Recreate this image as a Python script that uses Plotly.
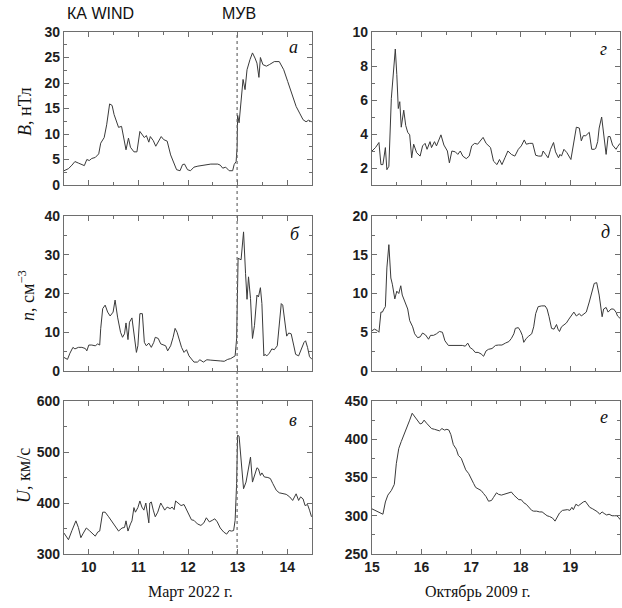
import plotly.graph_objects as go

# ---------------- data ----------------
# Left column: March 2022 (day of month)
t_mar_B = [9.50, 9.59, 9.66, 9.72, 9.79, 9.86, 9.91, 9.96, 10.01, 10.06, 10.13, 10.20, 10.24, 10.31, 10.36,
           10.42, 10.47, 10.51, 10.57, 10.60, 10.66, 10.70, 10.75, 10.80, 10.84, 10.91, 10.97, 11.03, 11.07,
           11.12, 11.16, 11.21, 11.24, 11.30, 11.35, 11.41, 11.46, 11.51, 11.58, 11.65, 11.72, 11.77, 11.84,
           11.89, 11.93, 11.99, 12.05, 12.12, 12.20, 12.32, 12.46, 12.60, 12.65, 12.70, 12.76, 12.83, 12.90,
           12.93, 12.97, 12.99, 13.00, 13.03, 13.07, 13.11, 13.15, 13.19, 13.25, 13.30, 13.35, 13.39, 13.43,
           13.46, 13.51, 13.58, 13.64, 13.74, 13.84, 13.93, 14.01, 14.09, 14.18, 14.25, 14.32, 14.38, 14.43, 14.49]
B_mar = [2.8, 3.2, 3.9, 4.6, 4.3, 4.0, 3.8, 5.0, 4.8, 5.2, 5.4, 6.1, 8.2, 9.3, 11.8,
         15.9, 15.6, 13.8, 12.2, 11.3, 11.5, 9.5, 6.9, 9.2, 7.4, 6.5, 6.5, 10.5, 10.0,
         9.3, 9.7, 8.4, 9.5, 8.7, 7.6, 8.6, 9.5, 8.9, 8.6, 5.9, 4.0, 3.0, 2.8,
         4.0, 4.1, 3.0, 2.8, 3.5, 3.7, 3.9, 4.1, 4.1, 3.9, 3.3, 3.5, 2.8, 2.8,
         4.0, 4.6, 7.3, 13.7, 12.2, 16.7, 20.7, 18.7, 22.6, 24.6, 25.9, 24.9, 23.9, 21.1,
         25.0, 23.6, 23.3, 23.6, 24.2, 24.2, 22.6, 20.3, 18.0, 15.4, 14.1, 12.8, 12.4, 12.7, 12.4]

t_mar_n = [9.50, 9.57, 9.62, 9.68, 9.72, 9.79, 9.86, 9.93, 9.96, 10.00, 10.06, 10.13, 10.18, 10.22, 10.24,
           10.28, 10.33, 10.38, 10.43, 10.49, 10.53, 10.58, 10.64, 10.68, 10.72, 10.75, 10.79, 10.82, 10.87,
           10.92, 10.96, 10.99, 11.03, 11.08, 11.12, 11.16, 11.21, 11.26, 11.31, 11.34, 11.40, 11.45, 11.50,
           11.55, 11.59, 11.65, 11.70, 11.74, 11.78, 11.83, 11.87, 11.92, 11.97, 12.02, 12.07, 12.12, 12.19,
           12.24, 12.31, 12.38, 12.46, 12.56, 12.65, 12.73, 12.80, 12.86, 12.92, 12.95, 12.98, 13.01, 13.07,
           13.10, 13.12, 13.16, 13.19, 13.22, 13.26, 13.30, 13.34, 13.39, 13.42, 13.46, 13.49, 13.53, 13.55,
           13.59, 13.64, 13.69, 13.74, 13.80, 13.84, 13.88, 13.91, 13.95, 13.99, 14.03, 14.08, 14.13, 14.17,
           14.23, 14.28, 14.34, 14.37, 14.41, 14.45, 14.50]
n_mar = [3.5, 3.0, 4.6, 6.1, 5.7, 6.1, 6.1, 5.8, 5.2, 6.7, 6.7, 6.5, 7.0, 6.7, 10.9,
         16.1, 17.0, 15.2, 14.2, 15.2, 18.3, 13.9, 10.0, 8.7, 9.6, 12.4, 8.1, 12.6, 13.7,
         8.3, 4.8, 6.5, 14.8, 14.8, 7.4, 6.5, 7.2, 6.1, 7.4, 8.7, 8.4, 7.0, 6.7,
         6.5, 5.2, 6.5, 8.7, 11.0, 10.0, 7.4, 6.1, 4.8, 5.5, 3.9, 3.0, 2.3, 2.3,
         2.9, 2.3, 2.9, 2.8, 2.6, 2.6, 2.5, 3.0, 3.2, 3.7, 3.9, 8.3, 29.1, 28.7,
         32.6, 35.9, 25.2, 18.5, 24.3, 18.7, 8.4, 11.7, 19.6, 19.1, 21.5, 17.4, 3.9, 4.3,
         3.9, 4.6, 5.7, 5.5, 6.5, 12.6, 17.4, 17.0, 12.6, 9.0, 9.8, 9.6, 6.7, 4.3,
         3.9, 5.7, 7.4, 7.8, 6.1, 3.7, 3.0]

t_mar_U = [9.50, 9.59, 9.66, 9.74, 9.79, 9.84, 9.89, 9.95, 10.01, 10.08, 10.13, 10.18, 10.22, 10.28, 10.33,
           10.40, 10.47, 10.53, 10.60, 10.67, 10.72, 10.75, 10.79, 10.84, 10.87, 10.91, 10.94, 10.99, 11.03,
           11.07, 11.11, 11.15, 11.19, 11.21, 11.23, 11.26, 11.30, 11.34, 11.39, 11.45, 11.48, 11.53, 11.58,
           11.64, 11.68, 11.72, 11.75, 11.82, 11.86, 11.92, 11.97, 12.02, 12.07, 12.12, 12.19, 12.26, 12.32,
           12.37, 12.43, 12.49, 12.54, 12.59, 12.65, 12.72, 12.78, 12.83, 12.88, 12.92, 12.95, 12.98, 13.00,
           13.03, 13.07, 13.12, 13.17, 13.22, 13.26, 13.30, 13.34, 13.39, 13.42, 13.46, 13.49, 13.54, 13.61,
           13.66, 13.71, 13.78, 13.84, 13.91, 13.98, 14.05, 14.11, 14.18, 14.23, 14.27, 14.32, 14.36, 14.41,
           14.45, 14.49]
U_mar = [341, 328, 346, 365, 352, 332, 341, 351, 346, 340, 335, 343, 345, 382, 382,
         373, 363, 356, 345, 351, 352, 365, 345, 359, 365, 391, 382, 391, 404,
         392, 386, 400, 376, 361, 400, 402, 386, 373, 382, 400, 395, 386, 392,
         389, 392, 387, 404, 397, 395, 397, 386, 378, 367, 366, 359, 356, 361,
         371, 363, 366, 369, 363, 351, 343, 339, 346, 345, 346, 366, 438, 533,
         531, 490, 428, 441, 467, 490, 441, 454, 469, 467, 454, 459, 451, 450,
         448, 438, 425, 420, 418, 417, 412, 405, 418, 405, 412, 408, 395, 397,
         386, 373]

# Right column: October 2009 (day of month)
t_oct_B = [15.00, 15.07, 15.14, 15.18, 15.22, 15.27, 15.30, 15.34, 15.39, 15.43, 15.47, 15.50, 15.53, 15.56,
           15.59, 15.64, 15.68, 15.72, 15.76, 15.80, 15.84, 15.90, 15.97, 16.02, 16.07, 16.11, 16.17, 16.20,
           16.26, 16.30, 16.35, 16.39, 16.45, 16.52, 16.56, 16.61, 16.68, 16.73, 16.78, 16.83, 16.90, 16.96,
           17.01, 17.07, 17.13, 17.18, 17.24, 17.30, 17.39, 17.45, 17.52, 17.57, 17.62, 17.68, 17.74, 17.81,
           17.88, 17.95, 18.01, 18.07, 18.11, 18.18, 18.24, 18.30, 18.36, 18.42, 18.45, 18.50, 18.55, 18.60,
           18.66, 18.70, 18.76, 18.79, 18.82, 18.87, 18.93, 19.01, 19.07, 19.12, 19.18, 19.22, 19.26, 19.31,
           19.38, 19.43, 19.48, 19.51, 19.55, 19.58, 19.63, 19.67, 19.72, 19.76, 19.80, 19.85, 19.92, 19.95, 20.00]
B_oct = [3.0, 3.2, 3.5, 2.2, 2.2, 3.2, 1.9, 2.1, 6.1, 7.7, 9.0, 7.5, 5.5, 5.9,
         4.4, 5.4, 4.5, 4.1, 3.95, 2.6, 3.4, 2.9, 2.7, 3.3, 3.45, 3.1, 3.55, 3.2,
         3.55, 3.3, 3.65, 3.95, 3.35, 3.0, 2.3, 3.0, 2.95, 2.8, 3.0, 2.7, 2.55, 2.7,
         3.3, 3.45, 3.4, 3.6, 3.8, 3.45, 3.2, 2.4, 2.2, 2.5, 2.2, 2.6, 3.0, 2.8,
         2.7, 3.1, 3.3, 3.65, 3.4, 3.45, 3.45, 2.75, 2.7, 2.7, 3.0, 2.8, 2.6, 3.1,
         3.5, 2.95, 2.6, 2.8, 2.7, 3.1, 2.9, 2.5, 3.45, 4.4, 4.35, 3.6, 3.9, 3.9,
         4.1, 3.1, 3.1, 3.15, 3.55, 4.35, 5.0, 4.15, 2.8, 3.85, 3.85, 3.35, 3.1, 3.25, 3.45]

t_oct_n = [15.00, 15.05, 15.11, 15.14, 15.18, 15.21, 15.24, 15.27, 15.30, 15.34, 15.38, 15.41, 15.46, 15.50,
           15.54, 15.58, 15.61, 15.66, 15.72, 15.76, 15.82, 15.86, 15.92, 15.97, 16.02, 16.08, 16.14, 16.18,
           16.24, 16.30, 16.36, 16.42, 16.47, 16.54, 16.61, 16.66, 16.71, 16.78, 16.82, 16.88, 16.93, 16.98,
           17.03, 17.08, 17.14, 17.20, 17.25, 17.30, 17.35, 17.42, 17.49, 17.55, 17.62, 17.69, 17.76, 17.81,
           17.86, 17.89, 17.95, 17.99, 18.03, 18.06, 18.11, 18.16, 18.22, 18.26, 18.30, 18.35, 18.42, 18.49,
           18.53, 18.57, 18.62, 18.67, 18.72, 18.75, 18.78, 18.82, 18.87, 18.92, 18.97, 19.03, 19.07, 19.12,
           19.18, 19.22, 19.26, 19.32, 19.38, 19.43, 19.48, 19.53, 19.58, 19.64, 19.67, 19.72, 19.76, 19.82,
           19.87, 19.92, 19.95, 20.00]
n_oct = [5.2, 5.4, 5.2, 5.0, 7.6, 7.6, 8.0, 8.3, 13.3, 16.3, 12.0, 11.2, 9.3, 10.3,
         10.0, 11.0, 9.8, 8.9, 8.0, 6.5, 5.7, 4.8, 4.3, 4.4, 4.9, 4.65, 4.1, 4.6,
         4.6, 4.8, 5.1, 5.0, 3.9, 3.3, 3.3, 3.3, 3.3, 3.35, 3.3, 3.2, 3.6, 3.0,
         2.8, 2.4, 2.4, 2.2, 1.9, 2.6, 2.8, 2.9, 3.3, 3.35, 3.35, 3.6, 3.8, 4.2,
         4.8, 5.5, 5.6, 5.2, 4.6, 3.7, 4.2, 4.5, 4.8, 5.7, 7.4, 8.3, 8.4, 8.4,
         8.0, 7.0, 5.5, 5.4, 6.0, 5.4, 5.1, 5.7, 5.9, 6.2, 6.7, 7.2, 7.6, 7.1,
         7.4, 7.1, 7.3, 7.6, 8.9, 10.2, 11.3, 11.4, 9.8, 7.0, 8.0, 8.2, 7.6, 8.0,
         8.0, 7.6, 7.1, 6.8]

t_oct_U = [15.00, 15.09, 15.16, 15.22, 15.27, 15.32, 15.39, 15.45, 15.49, 15.54, 15.59, 15.66, 15.72, 15.76,
           15.81, 15.86, 15.92, 15.97, 16.01, 16.05, 16.10, 16.16, 16.20, 16.26, 16.30, 16.36, 16.41, 16.46,
           16.51, 16.55, 16.59, 16.64, 16.70, 16.74, 16.80, 16.84, 16.89, 16.95, 16.99, 17.05, 17.09, 17.15,
           17.20, 17.25, 17.30, 17.35, 17.41, 17.45, 17.51, 17.55, 17.61, 17.66, 17.71, 17.76, 17.81, 17.86,
           17.91, 17.96, 18.01, 18.06, 18.11, 18.16, 18.22, 18.26, 18.32, 18.38, 18.43, 18.49, 18.53, 18.58,
           18.64, 18.69, 18.74, 18.78, 18.84, 18.89, 18.94, 18.99, 19.03, 19.06, 19.11, 19.16, 19.21, 19.26,
           19.30, 19.34, 19.39, 19.45, 19.50, 19.55, 19.59, 19.64, 19.68, 19.73, 19.78, 19.84, 19.89, 19.93,
           19.97, 20.00]
U_oct = [309, 306, 303.5, 302, 318, 327, 333, 341, 368, 388, 397, 408, 417, 425,
         434, 430, 425, 420, 421, 425, 421, 417, 414, 413, 412, 411, 414, 412,
         413, 412, 406, 393, 387, 379, 375, 368, 360, 355, 349, 342, 337, 335,
         333, 329, 325, 319, 320, 324, 330, 328, 327, 328, 329, 331, 331, 327,
         324, 321, 321, 317, 315, 311, 307, 306, 306, 305, 305, 302, 300, 299,
         297, 293, 298, 303.5, 307, 308, 308, 307, 311, 308, 315, 313, 316, 318,
         319, 315, 311, 309, 307, 305, 302, 305, 303, 301, 302, 300, 300, 300,
         298, 295]

shock_time = 12.99
left_ticks = [10, 11, 12, 13, 14]
right_ticks = [15, 16, 17, 18, 19]
panel_letters = ["а", "г", "б", "д", "в", "е"]
left_xlabel = "Март 2022 г."
right_xlabel = "Октябрь 2009 г."

# ---------------- figure ----------------
W, H = 622, 608
LINE = "#3a3a3a"
FRAME = "#6e6e6e"

def px_x(a, b):
    return [a / W, b / W]

def px_y(top, bot):
    return [1 - bot / H, 1 - top / H]

xdom_L = px_x(64, 312)
xdom_R = px_x(372, 620)
ydoms = [px_y(32, 185), px_y(216, 371), px_y(401, 554)]

series = [
    (t_mar_B, B_mar), (t_oct_B, B_oct),
    (t_mar_n, n_mar), (t_oct_n, n_oct),
    (t_mar_U, U_mar), (t_oct_U, U_oct),
]

fig = go.Figure()
for i, (xs, ys) in enumerate(series):
    k = i + 1
    fig.add_trace(go.Scatter(x=xs, y=ys, mode="lines",
                             line=dict(color=LINE, width=1),
                             xaxis="x" if k == 1 else f"x{k}",
                             yaxis="y" if k == 1 else f"y{k}",
                             showlegend=False, hoverinfo="skip"))

tickfont = dict(family="Arial, Liberation Sans, sans-serif", size=14, color="#1e1e1e", weight="bold")

yspecs = [
    dict(range=[0, 30], dtick=5, tick0=0, minor=2.5),
    dict(range=[1, 10], dtick=2, tick0=0, minor=1),
    dict(range=[0, 40], dtick=10, tick0=0, minor=5),
    dict(range=[0, 20], dtick=5, tick0=0, minor=2.5),
    dict(range=[300, 600], dtick=100, tick0=0, minor=50),
    dict(range=[250, 450], dtick=50, tick0=0, minor=25),
]

layout = dict(width=W, height=H, margin=dict(l=0, r=0, t=0, b=0),
              paper_bgcolor="white", plot_bgcolor="white", showlegend=False)

for i in range(6):
    k = i + 1
    row = i // 2
    left = (i % 2 == 0)
    xname = "xaxis" if k == 1 else f"xaxis{k}"
    yname = "yaxis" if k == 1 else f"yaxis{k}"
    ys = yspecs[i]
    layout[xname] = dict(
        domain=xdom_L if left else xdom_R,
        range=[9.5, 14.5] if left else [15, 20],
        tickmode="array", tickvals=left_ticks if left else right_ticks,
        showticklabels=(row == 2),
        ticks="inside", ticklen=5, tickwidth=1, tickcolor=FRAME,
        minor=dict(ticks="inside", dtick=0.5, tick0=0, ticklen=3, tickcolor=FRAME),
        showline=True, linecolor=FRAME, linewidth=1.3, mirror="allticks",
        showgrid=False, zeroline=False, tickfont=tickfont,
        anchor="y" if k == 1 else f"y{k}", automargin=False,
    )
    layout[yname] = dict(
        domain=ydoms[row], range=ys["range"], dtick=ys["dtick"], tick0=ys["tick0"],
        ticks="inside", ticklen=5, tickwidth=1, tickcolor=FRAME,
        minor=dict(ticks="inside", dtick=ys["minor"], tick0=0, ticklen=3, tickcolor=FRAME),
        showline=True, linecolor=FRAME, linewidth=1.3, mirror="allticks",
        showgrid=False, zeroline=False, tickfont=tickfont,
        anchor="x" if k == 1 else f"x{k}", automargin=False,
    )

fig.update_layout(**layout)

# shock (МУВ) dotted line across left column
fig.add_shape(type="line", xref="x5", yref="paper",
              x0=shock_time, x1=shock_time, y0=ydoms[2][0], y1=ydoms[0][1],
              line=dict(color="#6a6a6a", width=1.2, dash="dot"))

serif = "Times New Roman, Liberation Serif, serif"
sans = "Arial, Liberation Sans, sans-serif"
ann = []
# panel letters
letter_pos = [(293, 47), (603, 49), (295, 234), (605, 232), (293, 420), (604, 417)]
for (lx, ly), s in zip(letter_pos, panel_letters):
    ann.append(dict(x=lx / W, y=1 - ly / H, xref="paper", yref="paper", text=f"<i>{s}</i>",
                    showarrow=False, font=dict(family=serif, size=18, color="#111"),
                    xanchor="center", yanchor="middle"))
# y titles
ytitles = [("<i>B</i>, нТл", 25, 112), ("<i>n</i>, см<sup>−3</sup>", 26, 296), ("<i>U</i>, км/с", 24, 476)]
for txt, tx, ty in ytitles:
    ann.append(dict(x=tx / W, y=1 - ty / H, xref="paper", yref="paper", text=txt, textangle=-90,
                    showarrow=False, font=dict(family=serif, size=18, color="#111"),
                    xanchor="center", yanchor="middle"))
# x titles
ann.append(dict(x=190 / W, y=1 - 592 / H, xref="paper", yref="paper", text=left_xlabel,
                showarrow=False, font=dict(family=serif, size=16, color="#111"),
                xanchor="center", yanchor="middle"))
ann.append(dict(x=477 / W, y=1 - 592 / H, xref="paper", yref="paper", text=right_xlabel,
                showarrow=False, font=dict(family=serif, size=16, color="#111"),
                xanchor="center", yanchor="middle"))
# top labels
ann.append(dict(x=101 / W, y=1 - 13 / H, xref="paper", yref="paper", text="КА WIND",
                showarrow=False, font=dict(family=sans, size=16, color="#111"),
                xanchor="center", yanchor="middle"))
ann.append(dict(x=239 / W, y=1 - 13 / H, xref="paper", yref="paper", text="МУВ",
                showarrow=False, font=dict(family=sans, size=16, color="#111"),
                xanchor="center", yanchor="middle"))
fig.update_layout(annotations=ann)

fig.write_html("out.html")
